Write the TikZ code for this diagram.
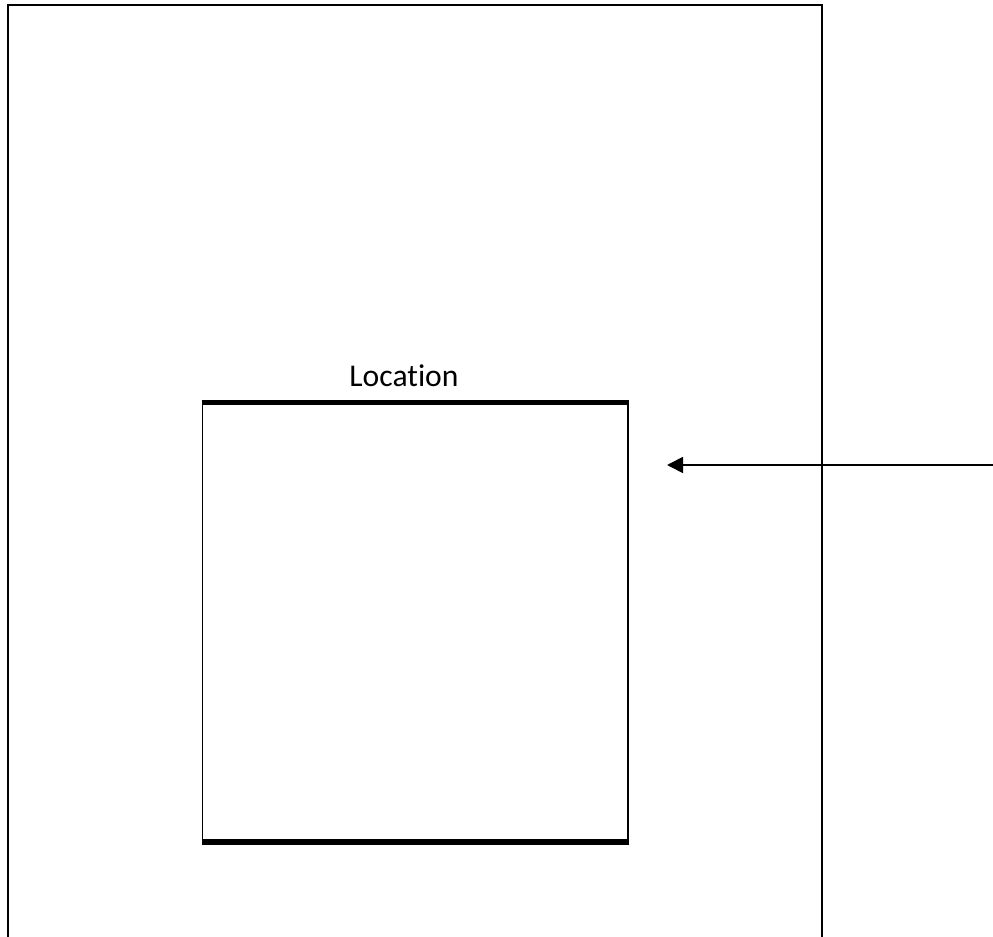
\documentclass[tikz,border=0pt]{standalone}
\usepackage{fontspec}
\setmainfont{Carlito}[Ligatures=NoCommon]
\usetikzlibrary{arrows.meta,positioning}
\tikzset{framebox/.style={draw,line width=1.4pt},
 locbox/.style={draw,line width=1.1pt,inner sep=0pt,minimum width=10.64cm,minimum height=10.94cm},
 edgebar/.style={line width=3.9pt},
 flowarrow/.style={-{Triangle[length=0.4cm,width=0.4cm]},line width=1.2pt}}

\begin{document}
\begin{tikzpicture}[x=0.025cm,y=-0.025cm]
\useasboundingbox (0,0) rectangle (993,937);
\draw[framebox] (8,937) -- (8,5) -- (822,5) -- (822,937);
\node[locbox] (loc) at (415.3,622.3) {};
\draw[edgebar] (loc.north west) -- (loc.north east);
\draw[edgebar] (loc.south west) -- (loc.south east);
\node[font=\fontsize{22.5}{27}\selectfont,anchor=base,inner sep=0pt] (lbl) at (404,387) {Location};
\coordinate (src) at (993,465);
\coordinate (tip) at (667,465);
\draw[flowarrow] (src) -- (tip);
\end{tikzpicture}
\end{document}
